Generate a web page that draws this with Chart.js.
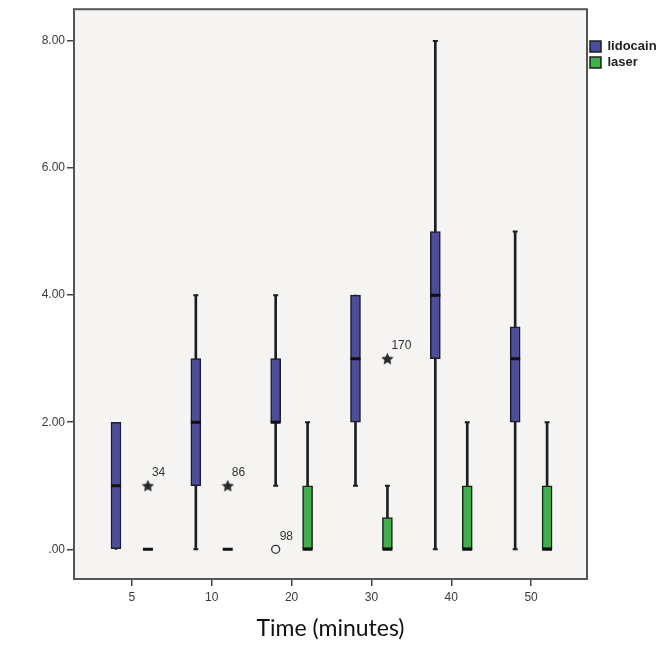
<!DOCTYPE html>
<html>
<head>
<meta charset="utf-8">
<script src="https://cdn.jsdelivr.net/npm/chart.js@4"></script>
<style>
  body { margin: 0; background: #fff; }
  #wrap { width: 664px; height: 652px; }
</style>
</head>
<body>
<div id="wrap"><canvas id="boxChart"></canvas></div>
<script>
// Time points (minutes)
const times = ['5', '10', '20', '30', '40', '50'];

// lidocain group: five-number summaries
const lidoMin = [0, 0, 1, 1, 0, 0];
const lidoQ1  = [0, 1, 2, 2, 3, 2];
const lidoMed = [1, 2, 2, 3, 4, 3];
const lidoQ3  = [2, 3, 3, 4, 5, 3.5];
const lidoMax = [2, 4, 4, 4, 8, 5];

// laser group
const laserMin = [0, 0, 0, 0, 0, 0];
const laserQ1  = [0, 0, 0, 0, 0, 0];
const laserMed = [0, 0, 0, 0, 0, 0];
const laserQ3  = [0, 0, 1, 0.5, 1, 1];
const laserMax = [0, 0, 2, 1, 2, 2];

// extreme values (stars) and outliers (circles) with case numbers
const starTime  = [0, 1, 3];
const starGroup = ['laser', 'laser', 'laser'];
const starValue = [1, 1, 3];
const starCase  = ['34', '86', '170'];

const circleTime  = [2];
const circleGroup = ['lidocain'];
const circleValue = [0];
const circleCase  = ['98'];

const yTicks = [0, 2, 4, 6, 8];

const shift = { lidocain: -0.2, laser: 0.2 };
const lidoColor = '#4b4d9f';
const laserColor = '#3db24b';
const ink = '#1e1e1e';

function boxes(q1, q3, group) {
  return times.map((t, i) => ({ x: i + shift[group], y: [q1[i], q3[i]] }));
}
function points(vals, group) {
  return times.map((t, i) => ({ x: i + shift[group], y: vals[i] }));
}
function whisker(a, b, group) {
  return times.map((t, i) => ({ x: i + shift[group], y: [a[i], b[i]] }));
}
function caps() {
  const out = [];
  times.forEach((t, i) => {
    if (lidoMin[i] < lidoQ1[i]) out.push({ x: i + shift.lidocain, y: lidoMin[i] });
    if (lidoMax[i] > lidoQ3[i]) out.push({ x: i + shift.lidocain, y: lidoMax[i] });
    if (laserMin[i] < laserQ1[i]) out.push({ x: i + shift.laser, y: laserMin[i] });
    if (laserMax[i] > laserQ3[i]) out.push({ x: i + shift.laser, y: laserMax[i] });
  });
  return out;
}

// small filled 5-point star used as the extreme-value marker
function starImage(size) {
  const c = document.createElement('canvas');
  c.width = c.height = size;
  const g = c.getContext('2d');
  g.fillStyle = '#2a2a2a';
  g.beginPath();
  for (let k = 0; k < 10; k++) {
    const r = k % 2 ? size * 0.24 : size / 2;
    const a = -Math.PI / 2 + k * Math.PI / 5;
    g.lineTo(size / 2 + r * Math.cos(a), size / 2 + 0.5 + r * Math.sin(a));
  }
  g.closePath();
  g.fill();
  return c;
}

const plotFrame = {
  id: 'plotFrame',
  beforeDraw(chart) {
    const { ctx, chartArea: a } = chart;
    ctx.save();
    ctx.fillStyle = '#f5f4f2';
    ctx.fillRect(a.left, a.top, a.right - a.left, a.bottom - a.top);
    ctx.restore();
  },
  afterDraw(chart) {
    const { ctx, chartArea: a } = chart;
    ctx.save();
    ctx.strokeStyle = '#555';
    ctx.lineWidth = 2;
    ctx.strokeRect(a.left, a.top, a.right - a.left, a.bottom - a.top);
    ctx.restore();
  }
};

const caseLabels = {
  id: 'caseLabels',
  afterDatasetsDraw(chart) {
    const ctx = chart.ctx;
    ctx.save();
    ctx.fillStyle = '#333';
    ctx.font = '12px "Liberation Sans", Arial, sans-serif';
    ctx.textAlign = 'left';
    ctx.textBaseline = 'middle';
    chart.data.datasets.forEach((ds, i) => {
      if (!ds.caseLabels) return;
      chart.getDatasetMeta(i).data.forEach((pt, j) => {
        ctx.fillText(ds.caseLabels[j], pt.x + 4, pt.y - 13);
      });
    });
    ctx.restore();
  }
};

Chart.defaults.font.family = '"Liberation Sans", Arial, sans-serif';

new Chart(document.getElementById('boxChart'), {
  type: 'bar',
  data: {
    datasets: [
      {
        type: 'scatter',
        data: starTime.map((t, i) => ({ x: t + shift[starGroup[i]], y: starValue[i] })),
        caseLabels: starCase,
        pointStyle: starImage(13),
        pointRadius: 6
      },
      {
        type: 'scatter',
        data: circleTime.map((t, i) => ({ x: t + shift[circleGroup[i]], y: circleValue[i] })),
        caseLabels: circleCase,
        pointStyle: 'circle',
        pointRadius: 4,
        backgroundColor: '#f5f4f2',
        borderColor: '#333',
        borderWidth: 1.3
      },
      {
        type: 'scatter',
        data: points(lidoMed, 'lidocain'),
        pointStyle: 'line',
        pointRadius: 5,
        borderColor: '#111',
        borderWidth: 3
      },
      {
        type: 'scatter',
        data: points(laserMed, 'laser'),
        pointStyle: 'line',
        pointRadius: 5,
        borderColor: '#111',
        borderWidth: 3
      },
      {
        type: 'scatter',
        data: caps(),
        pointStyle: 'line',
        pointRadius: 2.5,
        borderColor: ink,
        borderWidth: 2
      },
      {
        label: 'lidocain',
        inLegend: true,
        data: boxes(lidoQ1, lidoQ3, 'lidocain'),
        backgroundColor: lidoColor,
        borderColor: ink,
        borderWidth: 1.5,
        borderSkipped: false,
        barThickness: 10,
        grouped: false
      },
      {
        label: 'laser',
        inLegend: true,
        data: boxes(laserQ1, laserQ3, 'laser'),
        backgroundColor: laserColor,
        borderColor: ink,
        borderWidth: 1.5,
        borderSkipped: false,
        barThickness: 10,
        grouped: false
      },
      { data: whisker(lidoMin, lidoQ1, 'lidocain'), backgroundColor: ink, barThickness: 2, grouped: false },
      { data: whisker(lidoQ3, lidoMax, 'lidocain'), backgroundColor: ink, barThickness: 2, grouped: false },
      { data: whisker(laserMin, laserQ1, 'laser'), backgroundColor: ink, barThickness: 2, grouped: false },
      { data: whisker(laserQ3, laserMax, 'laser'), backgroundColor: ink, barThickness: 2, grouped: false }
    ]
  },
  plugins: [plotFrame, caseLabels],
  options: {
    responsive: true,
    maintainAspectRatio: false,
    animation: false,
    layout: { padding: { top: 3, right: 0, bottom: 0, left: 0 } },
    plugins: {
      tooltip: { enabled: false },
      legend: {
        position: 'right',
        align: 'start',
        maxWidth: 77,
        title: { display: true, text: '', font: { size: 10 }, padding: { top: 0, bottom: 22 } },
        labels: {
          boxWidth: 11,
          boxHeight: 11,
          padding: 3,
          color: '#222',
          font: { size: 13, weight: 'bold' },
          filter: (item, data) => data.datasets[item.datasetIndex].inLegend
        }
      }
    },
    scales: {
      x: {
        type: 'linear',
        min: -0.726,
        max: 5.70,
        offset: false,
        afterBuildTicks: axis => { axis.ticks = times.map((t, i) => ({ value: i })); },
        afterFit: axis => { axis.height = 73; },
        ticks: {
          autoSkip: false,
          padding: 4,
          color: '#3a3a3a',
          font: { size: 12 },
          callback: v => times[v]
        },
        grid: { offset: false, drawOnChartArea: false, tickLength: 7, color: '#444', lineWidth: 1.5 },
        border: { display: false },
        title: {
          display: true,
          text: 'Time (minutes)',
          color: '#111',
          font: { family: 'Lato', size: 23 },
          padding: { top: 0, bottom: 10 }
        }
      },
      y: {
        min: -0.467,
        max: 8.5,
        afterBuildTicks: axis => { axis.ticks = yTicks.map(v => ({ value: v })); },
        afterFit: axis => { axis.width = 74; },
        ticks: {
          padding: 2,
          color: '#3a3a3a',
          font: { size: 12 },
          callback: v => (v === 0 ? '.00' : v.toFixed(2))
        },
        grid: { drawOnChartArea: false, tickLength: 7, color: '#444', lineWidth: 1.5 },
        border: { display: false }
      }
    }
  }
});
</script>
</body>
</html>
